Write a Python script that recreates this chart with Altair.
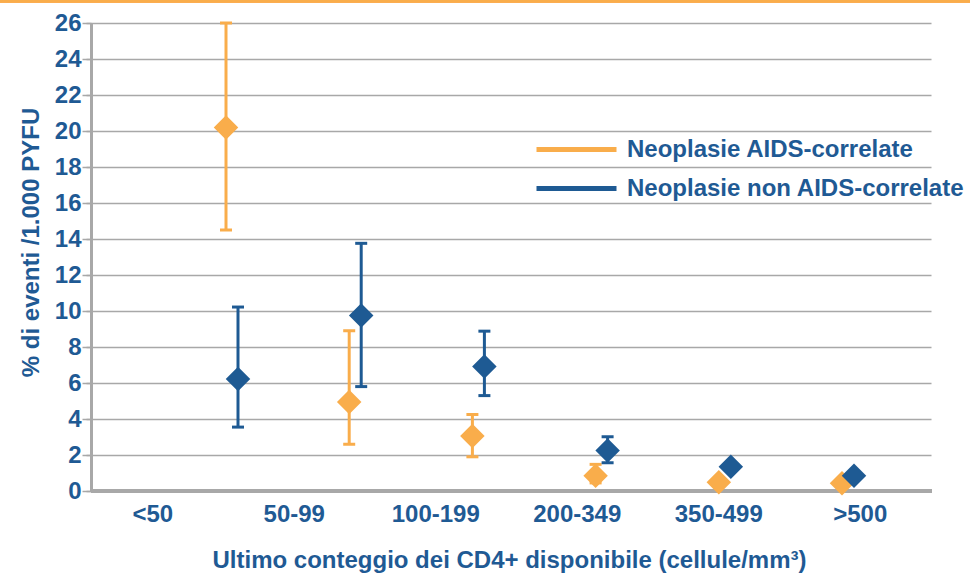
import altair as alt
import pandas as pd

# CD4 classes and the two tumour groups
categories = ["<50", "50-99", "100-199", "200-349", "350-499", ">500"]
series_names = ["Neoplasie AIDS-correlate", "Neoplasie non AIDS-correlate"]

# Incidence per 1,000 PYFU with 95% CI bounds
aids_rate = [20.2, 4.95, 3.05, 0.85, 0.48, 0.43]
aids_low = [14.5, 2.6, 1.9, 0.45, 0.3, 0.3]
aids_high = [26.0, 8.9, 4.25, 1.48, 0.7, 0.6]

non_aids_rate = [6.22, 9.75, 6.92, 2.25, 1.35, 0.85]
non_aids_low = [3.55, 5.8, 5.3, 1.57, 1.15, 0.65]
non_aids_high = [10.22, 13.76, 8.88, 3.02, 1.55, 1.05]

y_ticks = list(range(0, 27, 2))

ORANGE = "#F9AD4B"
BLUE = "#1E5A93"
TEXT = "#1F5A94"
GRAY = "#A8A8A8"
FONT = "Liberation Sans"
FS = 24

rows = []
for name, rate, lo, hi in [
    (series_names[0], aids_rate, aids_low, aids_high),
    (series_names[1], non_aids_rate, non_aids_low, non_aids_high),
]:
    for c, r, l, h in zip(categories, rate, lo, hi):
        rows.append({"cd4": c, "serie": name, "rate": r, "lo": l, "hi": h})
df = pd.DataFrame(rows)

W, H = 841, 468

y_scale = alt.Scale(domain=[0, 26], nice=False, zero=True)
y_axis = alt.Axis(
    values=y_ticks, tickCount=len(y_ticks),
    title="% di eventi /1.000 PYFU",
    titleFont=FONT, titleFontSize=FS, titleFontWeight="bold", titleColor=TEXT,
    titleAngle=270, titleX=-60, titleY=219, titleAlign="center", titleBaseline="middle",
    labelFont=FONT, labelFontSize=FS, labelFontWeight="bold", labelColor=TEXT,
    labelPadding=5, labelOverlap=False, tickSize=5, tickColor=GRAY, tickWidth=1.5,
    grid=True, gridColor=GRAY, gridWidth=1.5,
    domain=True, domainColor=GRAY, domainWidth=3,
)


def y_enc(field):
    return alt.Y(field, type="quantitative", scale=y_scale, axis=y_axis)


# point scale that places each CD4 class (markers/error bars)
x_pts = alt.X("cd4:N", sort=categories,
              scale=alt.Scale(type="point", range=[141, 757], padding=0),
              axis=None)

base = alt.Chart(df)

# category labels on a band scale across the bottom, plus the value axis
labels = base.mark_point(opacity=0).encode(
    x=alt.X("cd4:N", sort=categories,
            scale=alt.Scale(type="band", range=[-9, 840], paddingInner=0, paddingOuter=0),
            axis=alt.Axis(
                orient="bottom", title="Ultimo conteggio dei CD4+ disponibile (cellule/mm³)",
                titleFont=FONT, titleFontSize=FS, titleFontWeight="bold", titleColor=TEXT,
                titleX=418, titleY=69, titleAlign="center", titleBaseline="middle",
                labelFont=FONT, labelFontSize=FS, labelFontWeight="bold", labelColor=TEXT,
                labelAngle=0, labelPadding=11, labelOverlap=False,
                ticks=False, domain=False, grid=False,
            )),
    y=y_enc("rate"),
)

# thick baseline at zero
baseline = base.transform_calculate(z="0").mark_rule(color=GRAY, strokeWidth=3).encode(
    y=y_enc("z")
)

top_line = base.mark_rule(color=ORANGE, strokeWidth=2.5).encode(
    x=alt.value(-91), x2=alt.value(970 - 91), y=alt.value(-22)
)

stroke_enc = alt.Stroke(
    "serie:N",
    scale=alt.Scale(domain=series_names, range=[ORANGE, BLUE]),
    legend=alt.Legend(
        title=None, orient="none", legendX=473, legendY=114, padding=0,
        symbolType="M-4,0H4", symbolSize=400, symbolStrokeWidth=5,
        labelOffset=38, rowPadding=14, labelLimit=0,
        labelFont=FONT, labelFontSize=FS, labelFontWeight="bold", labelColor=TEXT,
    ),
)


def series_layers(name, color, dx):
    d = base.transform_filter(alt.datum.serie == name)
    bar = d.mark_rule(strokeWidth=3, xOffset=dx).encode(
        x=x_pts, y=y_enc("lo"), y2="hi:Q", stroke=stroke_enc,
    )
    cap_lo = d.mark_tick(color=color, size=12, thickness=3, xOffset=dx, opacity=1).encode(
        x=x_pts, y=y_enc("lo")
    )
    cap_hi = d.mark_tick(color=color, size=12, thickness=3, xOffset=dx, opacity=1).encode(
        x=x_pts, y=y_enc("hi")
    )
    dot = d.mark_point(shape="diamond", filled=True, size=600, color=color,
                       opacity=1, xOffset=dx).encode(
        x=x_pts, y=y_enc("rate")
    )
    return [bar, cap_lo, cap_hi, dot]


layers = [labels, baseline, top_line]
layers += series_layers(series_names[0], ORANGE, -6)
layers += series_layers(series_names[1], BLUE, 6)

chart = (
    alt.layer(*layers)
    .resolve_scale(x="independent")
    .properties(
        width=W, height=H,
        autosize=alt.AutoSizeParams(type="none"),
        padding={"left": 91, "top": 23, "right": 38, "bottom": 82},
        background="white",
    )
    .configure_view(stroke=None)
)

chart.save("out.html", embed_options={"renderer": "svg", "actions": False})
